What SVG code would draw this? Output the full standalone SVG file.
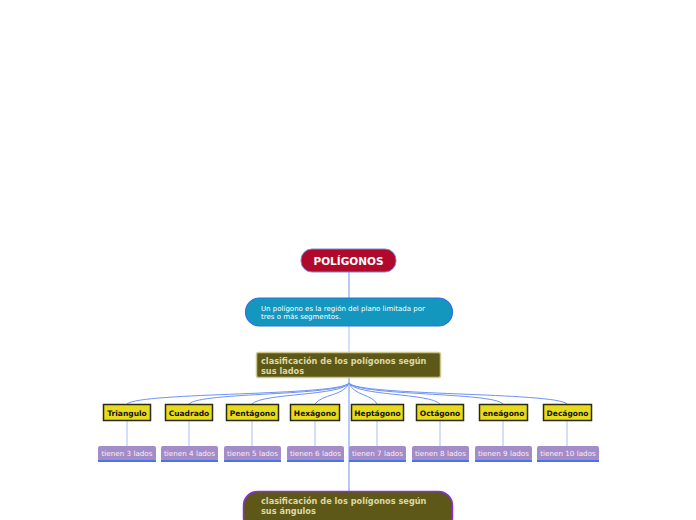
<svg xmlns="http://www.w3.org/2000/svg" width="696" height="520" viewBox="0 0 696 520">
<style>
.c{fill:none;stroke:#6f93f2;stroke-width:1}
.cl{fill:none;stroke:#a9c0f7;stroke-width:1}
.y rect{fill:#e8da1c;stroke:#2a2a10;stroke-width:1.5}
.y text{font-family:"DejaVu Sans",sans-serif;font-size:7.5px;font-weight:bold;fill:#111;text-anchor:middle}
.p rect{fill:#a48cc8}
.p line{stroke:#4a72ea;stroke-width:2}
.p text{font-family:"DejaVu Sans",sans-serif;font-size:7.2px;fill:#f4f0fa;text-anchor:middle}
.o text{font-family:"DejaVu Sans",sans-serif;font-size:8.2px;font-weight:bold;fill:#dcd8a4}
</style>
<rect width="696" height="520" fill="#fff"/>
<g id="connectors">
<line class="c" x1="349" y1="272" x2="349" y2="298" stroke-width="1.5"/>
<line class="cl" x1="349" y1="326" x2="349" y2="352"/>
<line class="c" x1="349" y1="378" x2="349" y2="491" stroke="#5a8ef0"/>
<path class="c" d="M349,383 C340,396 140,392 127,404"/>
<path class="c" d="M349,383 C340,396 200,392 189,404"/>
<path class="c" d="M349,383 C342,396 262,393 252,404"/>
<path class="c" d="M349,383 C344,396 322,394 315,404"/>
<path class="c" d="M349,383 C354,396 372,394 377,404"/>
<path class="c" d="M349,383 C356,396 430,393 440,404"/>
<path class="c" d="M349,383 C358,396 493,392 503,404"/>
<path class="c" d="M349,383 C358,396 556,392 567,404"/>
<line class="cl" x1="127" y1="421" x2="127" y2="446"/>
<line class="cl" x1="189" y1="421" x2="189" y2="446"/>
<line class="cl" x1="252" y1="421" x2="252" y2="446"/>
<line class="cl" x1="315" y1="421" x2="315" y2="446"/>
<line class="cl" x1="377" y1="421" x2="377" y2="446"/>
<line class="cl" x1="440" y1="421" x2="440" y2="446"/>
<line class="cl" x1="503" y1="421" x2="503" y2="446"/>
<line class="cl" x1="567" y1="421" x2="567" y2="446"/>
</g>
<g id="poligonos">
<rect x="301" y="249" width="95" height="23" rx="11" fill="#b0092c" stroke="#6f8fd8" stroke-width="1"/>
<text x="348.5" y="265" font-family="DejaVu Sans,sans-serif" font-size="10.5" font-weight="bold" fill="#fff" text-anchor="middle">POLÍGONOS</text>
</g>
<g id="definicion">
<rect x="245.5" y="298" width="207" height="28" rx="14" fill="#1497bf" stroke="#2f6ee6" stroke-width="1.2"/>
<text font-family="DejaVu Sans,sans-serif" font-size="7" fill="#fff"><tspan x="261" y="311">Un polígono es la región del plano limitada por</tspan><tspan x="261" y="319">tres o más segmentos.</tspan></text>
</g>
<g id="lados" class="o">
<rect x="256.5" y="352.5" width="184" height="25" rx="2" fill="#5d5817" stroke="#cbc78e" stroke-width="1.5"/>
<text><tspan x="261" y="364">clasificación de los polígonos según</tspan><tspan x="261" y="374">sus lados</tspan></text>
</g>
<g id="triangulo" class="y"><rect x="103.5" y="404.5" width="47" height="16"/><text x="127" y="415.5">Triangulo</text></g>
<g id="cuadrado" class="y"><rect x="165.5" y="404.5" width="47" height="16"/><text x="189" y="415.5">Cuadrado</text></g>
<g id="pentagono" class="y"><rect x="226.5" y="404.5" width="52" height="16"/><text x="252.5" y="415.5">Pentágono</text></g>
<g id="hexagono" class="y"><rect x="290.5" y="404.5" width="49" height="16"/><text x="315" y="415.5">Hexágono</text></g>
<g id="heptagono" class="y"><rect x="351.5" y="404.5" width="52" height="16"/><text x="377.5" y="415.5">Heptágono</text></g>
<g id="octagono" class="y"><rect x="416.5" y="404.5" width="47" height="16"/><text x="440" y="415.5">Octágono</text></g>
<g id="eneagono" class="y"><rect x="479.5" y="404.5" width="48" height="16"/><text x="503.5" y="415.5">eneágono</text></g>
<g id="decagono" class="y"><rect x="543.5" y="404.5" width="48" height="16"/><text x="567.5" y="415.5">Decágono</text></g>
<g id="l3" class="p"><rect x="98" y="446" width="58" height="15" rx="2"/><line x1="98" y1="461" x2="156" y2="461"/><text x="127" y="456">tienen 3 lados</text></g>
<g id="l4" class="p"><rect x="161" y="446" width="57" height="15" rx="2"/><line x1="161" y1="461" x2="218" y2="461"/><text x="189.5" y="456">tienen 4 lados</text></g>
<g id="l5" class="p"><rect x="224" y="446" width="57" height="15" rx="2"/><line x1="224" y1="461" x2="281" y2="461"/><text x="252.5" y="456">tienen 5 lados</text></g>
<g id="l6" class="p"><rect x="287" y="446" width="57" height="15" rx="2"/><line x1="287" y1="461" x2="344" y2="461"/><text x="315.5" y="456">tienen 6 lados</text></g>
<g id="l7" class="p"><rect x="349" y="446" width="57" height="15" rx="2"/><line x1="349" y1="461" x2="406" y2="461"/><text x="377.5" y="456">tienen 7 lados</text></g>
<g id="l8" class="p"><rect x="412" y="446" width="57" height="15" rx="2"/><line x1="412" y1="461" x2="469" y2="461"/><text x="440.5" y="456">tienen 8 lados</text></g>
<g id="l9" class="p"><rect x="475" y="446" width="57" height="15" rx="2"/><line x1="475" y1="461" x2="532" y2="461"/><text x="503.5" y="456">tienen 9 lados</text></g>
<g id="l10" class="p"><rect x="537" y="446" width="62" height="15" rx="2"/><line x1="537" y1="461" x2="599" y2="461"/><text x="568" y="456">tienen 10 lados</text></g>
<g id="angulos" class="o">
<rect x="243.5" y="491.5" width="209" height="40" rx="14" fill="#5d5817" stroke="#8a2ee0" stroke-width="1.5"/>
<text><tspan x="261" y="504">clasificación de los polígonos según</tspan><tspan x="261" y="514">sus ángulos</tspan></text>
</g>
</svg>
